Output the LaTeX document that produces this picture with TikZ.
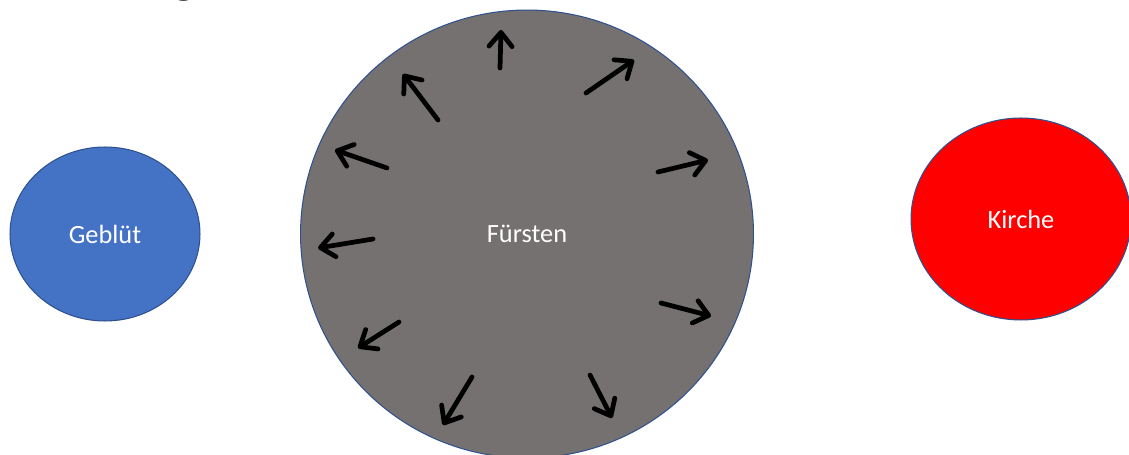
\documentclass[tikz,border=0pt]{standalone}
\usepackage{fontspec}
\setmainfont{Carlito}
\usepackage{xcolor}
\usepackage{tikz}
\usetikzlibrary{arrows.meta,shapes.geometric,positioning}

\definecolor{officeblue}{HTML}{4472C4}
\definecolor{edgeblue}{HTML}{2F528F}
\definecolor{fuerstgray}{HTML}{767171}

\begin{document}
\begin{tikzpicture}[x=0.02cm,y=-0.02cm,
  blob/.style={ellipse,draw=edgeblue,line width=0.6pt,text=white,font=\fontsize{15}{18}\selectfont},
  scribble/.style={line width=2.7pt,line cap=round,line join=round,
    -{Straight Barb[length=2.8mm,width=4.6mm,round]}}]
\useasboundingbox (0,0) rectangle (1129,455);
\fill[white] (0,0) rectangle (1129,455);
% cut-off heading, only the descender is left
\node[anchor=base,inner sep=0pt,font=\fontsize{26}{30}\selectfont,text=black!85] (titel) at (184,-6) {g};
\node[blob,fill=officeblue,minimum width=3.8cm,minimum height=3.48cm] (geblut) at (105,234) {Geblüt};
\node[blob,fill=fuerstgray,minimum width=9.06cm,minimum height=8.96cm] (fursten) at (527,234) {Fürsten};
\node[blob,fill=red,minimum width=4.4cm,minimum height=4.04cm] (kirche) at (1021,219) {Kirche};
\foreach \xa/\ya/\xb/\yb in {500/68/501/30, 586/93/634/60, 658/172/708/160, 661/303/711/316,
    590/375/612/418, 472/377/443/425, 399/322/358/348, 373/239/318/248,
    387/168/335/150, 438/120/403/74}{
  \draw[scribble] (\xa,\ya) -- (\xb,\yb);
}
\end{tikzpicture}
\end{document}
